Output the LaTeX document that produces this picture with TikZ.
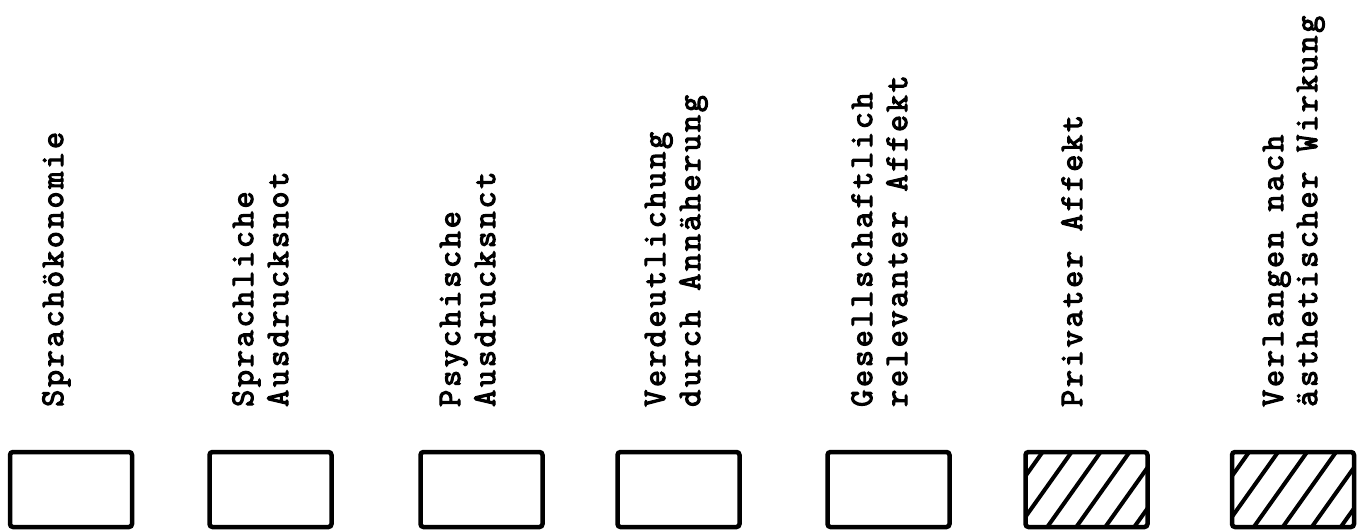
\documentclass[tikz,border=0pt]{standalone}
\usepackage{fontspec}
\newfontfamily\typew{Latin Modern Mono}[LetterSpace=8.6,FakeBold=3.5]
\begin{document}
\begin{tikzpicture}[x=1pt,y=1pt]
\tikzset{
  lbl/.style={rotate=90,anchor=base west,inner sep=0pt,
    font=\typew\fontsize{33}{35}\selectfont},
  box/.style={draw,line width=4.5pt,rounded corners=3pt,
    minimum width=122pt,minimum height=75pt,inner sep=0pt},
  hatched/.style={path picture={
    \foreach \k in {-3,...,5}{
      \draw[line width=4pt]
        ([shift={({17+29*\k+20},28)}]path picture bounding box.north west) --
        ([shift={({17+29*\k-76},-107)}]path picture bounding box.north west);
    }}}
}
\fill[white] (0,0) rectangle (1361,531);
\useasboundingbox (0,0) rectangle (1361,531);

% labels
\node[lbl] (t1) at (63,124) {Sprachökonomie};
\node[lbl] (t2a) at (253,124) {Sprachliche};
\node[lbl] (t2b) at (288,124) {Ausdrucksnot};
\node[lbl] (t3a) at (460,124) {Psychische};
\node[lbl] (t3b) at (495,124) {Ausdrucksnct};
\node[lbl] (t4a) at (665,124) {Verdeutlichung};
\node[lbl] (t4b) at (700,124) {durch Annäherung};
\node[lbl] (t5a) at (872,124) {Gesellschaftlich};
\node[lbl] (t5b) at (907,124) {relevanter Affekt};
\node[lbl] (t6) at (1082,124) {Privater Affekt};
\node[lbl] (t7a) at (1283,124) {Verlangen nach};
\node[lbl] (t7b) at (1317,124) {ästhetischer Wirkung};

% boxes
\node[box] (b1) at (71,41.5) {};
\node[box] (b2) at (270.5,41.5) {};
\node[box] (b3) at (481.5,41.5) {};
\node[box] (b4) at (678.5,41.5) {};
\node[box] (b5) at (888.5,41.5) {};
\node[box,hatched] (b6) at (1086.5,41.5) {};
\node[box,hatched] (b7) at (1293,41.5) {};
\end{tikzpicture}
\end{document}
